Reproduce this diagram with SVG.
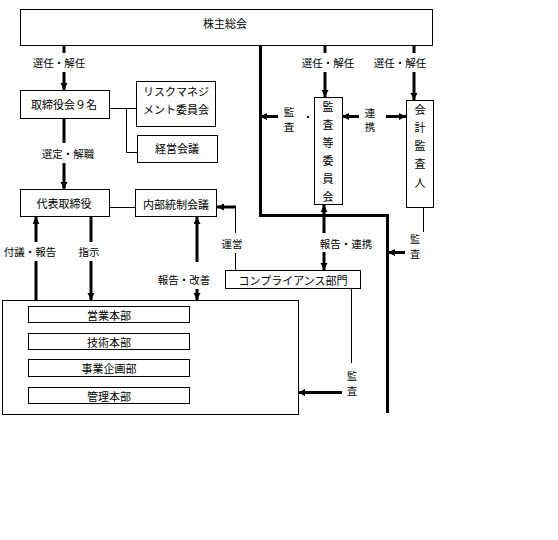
<svg xmlns="http://www.w3.org/2000/svg" width="558" height="540" viewBox="0 0 558 540">
<style>
.box{fill:#fff;stroke:#000;stroke-width:1}
.t{font-family:'Noto Sans CJK JP','Noto Sans CJK SC',sans-serif;font-size:11px;fill:#000;text-anchor:middle;dominant-baseline:central}
.l{font-family:'Noto Sans CJK JP','Noto Sans CJK SC',sans-serif;font-size:10.5px;fill:#000;text-anchor:middle;dominant-baseline:central}
.v{font-family:'Noto Sans CJK JP','Noto Sans CJK SC',sans-serif;font-size:10px;fill:#000;text-anchor:middle;dominant-baseline:central}
.thick{fill:none;stroke:#000;stroke-width:3}
.thin{fill:none;stroke:#000;stroke-width:1}
.a{marker-end:url(#ah)}
</style>
<defs>
<marker id="ah" markerUnits="userSpaceOnUse" markerWidth="8" markerHeight="8" refX="7" refY="3.5" orient="auto-start-reverse" viewBox="0 0 8 8">
<path d="M0,0 L7,3.5 L0,7 z" fill="#000"/>
</marker>
</defs>
<rect width="558" height="540" fill="#fff"/>

<g id="connectors">
<line class="thick" x1="64" y1="45" x2="64" y2="53"/>
<line class="thick a" x1="64" y1="72" x2="64" y2="90"/>
<text class="l" x="59" y="62">選任・解任</text>
<line class="thick" x1="64" y1="118" x2="64" y2="143"/>
<line class="thick a" x1="64" y1="163" x2="64" y2="189"/>
<text class="l" x="68" y="153">選定・解職</text>
<polyline class="thin" points="109,108.5 136,108.5"/>
<polyline class="thin" points="126.5,108.5 126.5,152.5 137,152.5"/>
<line class="thin" x1="109" y1="207.5" x2="135" y2="207.5"/>
<line class="thin" x1="235.5" y1="270" x2="235.5" y2="253"/>
<line class="thin" x1="235.5" y1="233" x2="235.5" y2="206"/>
<line class="thick a" x1="236" y1="207" x2="217" y2="207"/>
<text class="l" x="232" y="243">運営</text>
<line class="thick" x1="36" y1="300" x2="36" y2="261"/>
<line class="thick a" x1="36" y1="242" x2="36" y2="217"/>
<text class="l" x="30" y="251">付議・報告</text>
<line class="thick" x1="91" y1="217" x2="91" y2="242"/>
<line class="thick a" x1="91" y1="261" x2="91" y2="300"/>
<text class="l" x="89" y="251">指示</text>
<line class="thick a" x1="197" y1="262" x2="197" y2="217"/>
<line class="thick a" x1="197" y1="289" x2="197" y2="300"/>
<text class="l" x="184" y="279">報告・改善</text>
<polyline class="thick" points="260.5,45 260.5,215.5 387.5,215.5 387.5,413"/>
<line class="thick a" x1="278" y1="116.5" x2="260" y2="116.5"/>
<text class="l" x="289" y="111">監</text>
<text class="l" x="289" y="126">査</text>
<text class="l" x="308" y="116">・</text>
<line class="thick" x1="325" y1="45" x2="325" y2="53"/>
<line class="thick a" x1="325" y1="72" x2="325" y2="97"/>
<text class="l" x="328" y="62">選任・解任</text>
<line class="thick" x1="414" y1="45" x2="414" y2="53"/>
<line class="thick a" x1="414" y1="72" x2="414" y2="100"/>
<text class="l" x="400" y="62">選任・解任</text>
<line class="thick a" x1="359" y1="116.5" x2="342" y2="116.5"/>
<line class="thick a" x1="386" y1="116.5" x2="406" y2="116.5"/>
<text class="l" x="370" y="112">連</text>
<text class="l" x="370" y="126">携</text>
<line class="thick a" x1="324" y1="233" x2="324" y2="205"/>
<line class="thick a" x1="324" y1="252" x2="324" y2="270"/>
<text class="l" x="346" y="243">報告・連携</text>
<line class="thin" x1="423.5" y1="207" x2="423.5" y2="232"/>
<text class="v" x="415" y="238">監</text>
<text class="v" x="415" y="253">査</text>
<line class="thick a" x1="405" y1="252.5" x2="388" y2="252.5"/>
<line class="thin" x1="351.5" y1="288" x2="351.5" y2="363"/>
<text class="v" x="352" y="375">監</text>
<text class="v" x="352" y="390">査</text>
<line class="thick a" x1="342" y1="392.5" x2="298" y2="392.5"/>
</g>

<g id="shareholders"><rect class="box" x="20.5" y="9.5" width="412" height="36"/><text class="t" x="225" y="23">株主総会</text></g>
<g id="board"><rect class="box" x="20.5" y="90.5" width="89" height="28"/><text class="t" x="64" y="104">取締役会９名</text></g>
<g id="risk"><rect class="box" x="136.5" y="81.5" width="79" height="45"/><text class="t" x="176" y="91">リスクマネジ</text><text class="t" x="176" y="109">メント委員会</text></g>
<g id="management"><rect class="box" x="137.5" y="135.5" width="80" height="27"/><text class="t" x="177" y="148">経営会議</text></g>
<g id="representative"><rect class="box" x="20.5" y="189.5" width="89" height="27"/><text class="t" x="64" y="203">代表取締役</text></g>
<g id="internal-control"><rect class="box" x="135.5" y="189.5" width="81" height="27"/><text class="t" x="176" y="203.5">内部統制会議</text></g>
<g id="audit-committee"><rect class="box" x="314.5" y="97.5" width="28" height="107"/>
<text class="t" x="328" y="106">監</text><text class="t" x="328" y="124">査</text><text class="t" x="328" y="142">等</text><text class="t" x="328" y="160">委</text><text class="t" x="328" y="178">員</text><text class="t" x="328" y="196">会</text></g>
<g id="accounting-auditor"><rect class="box" x="406.5" y="100.5" width="27" height="107"/>
<text class="t" x="420" y="109">会</text><text class="t" x="420" y="127">計</text><text class="t" x="420" y="145">監</text><text class="t" x="420" y="163">査</text><text class="t" x="420" y="182">人</text></g>
<g id="compliance"><rect class="box" x="225.5" y="270.5" width="135" height="18"/><text class="t" x="293" y="279.5">コンプライアンス部門</text></g>
<g id="divisions"><rect class="box" x="2.5" y="300.5" width="296" height="114"/>
<g id="sales"><rect class="box" x="28.5" y="306.5" width="161" height="16"/><text class="t" x="109" y="314.5">営業本部</text></g>
<g id="tech"><rect class="box" x="28.5" y="333.5" width="161" height="16"/><text class="t" x="109" y="341.5">技術本部</text></g>
<g id="planning"><rect class="box" x="28.5" y="359.5" width="161" height="17"/><text class="t" x="109" y="368">事業企画部</text></g>
<g id="admin"><rect class="box" x="28.5" y="387.5" width="161" height="16"/><text class="t" x="109" y="395.5">管理本部</text></g>
</g>
</svg>
